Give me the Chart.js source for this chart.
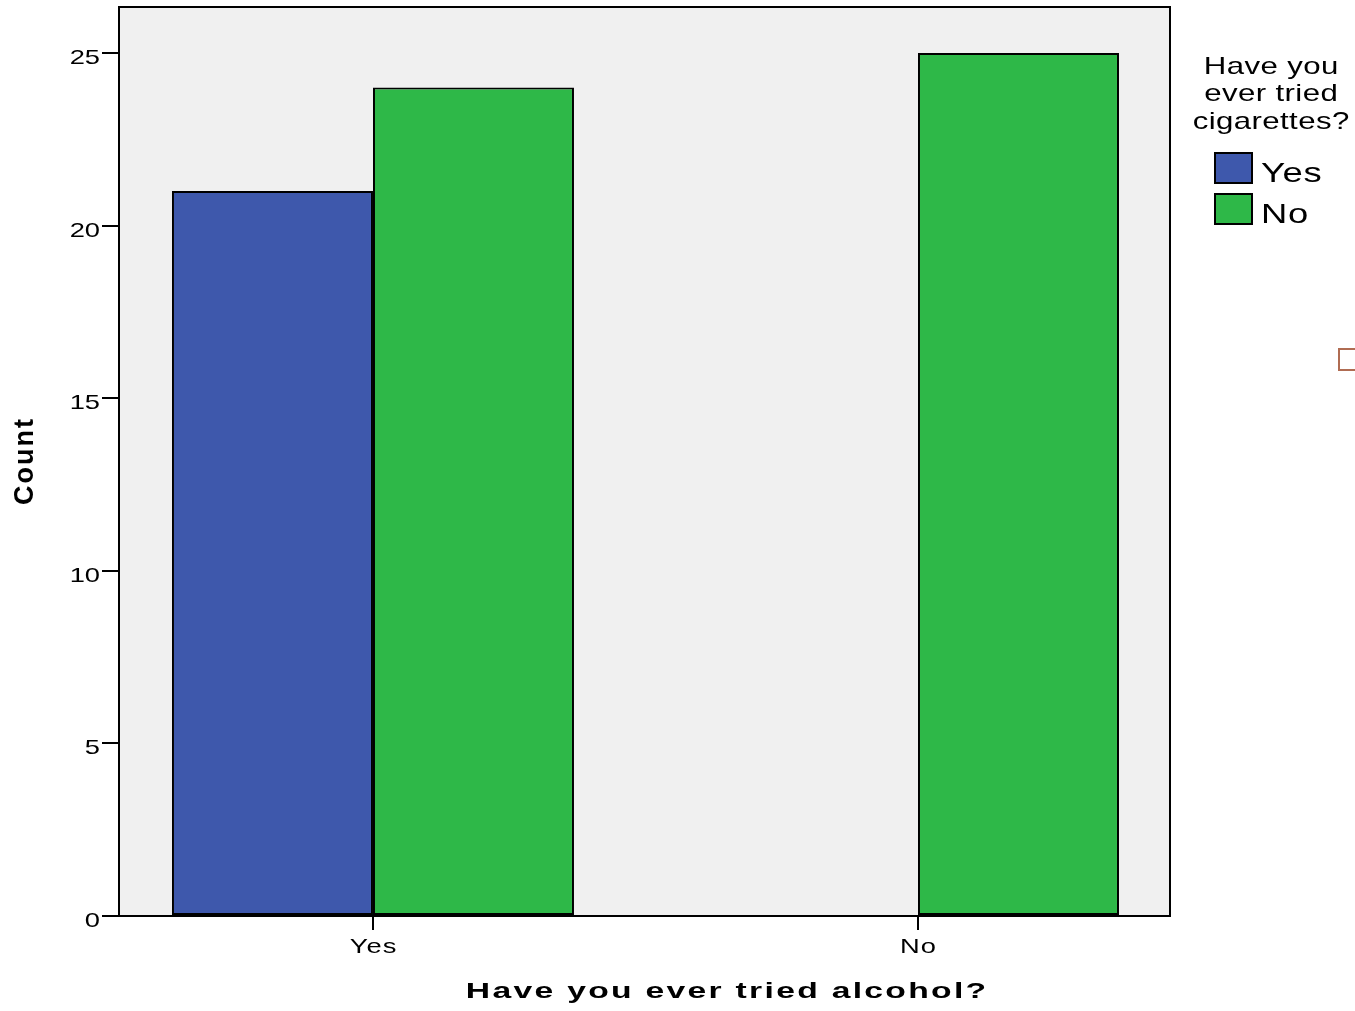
<!DOCTYPE html>
<html>
<head>
<meta charset="utf-8">
<script src="https://cdn.jsdelivr.net/npm/chart.js@4/dist/chart.umd.min.js"></script>
<style>
  html, body { margin: 0; padding: 0; background: #ffffff; }
  #wrap { width: 1355px; height: 1011px; }
</style>
</head>
<body>
<div id="wrap"><canvas id="c" width="1355" height="1011"></canvas></div>
<script>
// ---- data ----
const categories = ['Yes', 'No'];                 // Have you ever tried alcohol?
const seriesNames = ['Yes', 'No'];                // Have you ever tried cigarettes?
const cigYes = [21, 0];
const cigNo = [24, 25];
const yTicks = [0, 5, 10, 15, 20, 25];
const xTitle = 'Have you ever tried alcohol?';
const yTitle = 'Count';
const legendTitle = ['Have you', 'ever tried', 'cigarettes?'];

const COLORS = ['#3E58AC', '#2EB848'];
const FONT = '"Liberation Sans", Arial, Helvetica, sans-serif';

function drawText(ctx, text, x, y, font, align, spacing, sx, rotate) {
  ctx.save();
  ctx.font = font;
  ctx.letterSpacing = (spacing || 0) + 'px';
  const w = ctx.measureText(text).width - (spacing || 0);
  ctx.translate(x, y);
  ctx.scale(sx || 1.3, 1);
  if (rotate) ctx.rotate(-Math.PI / 2);
  const ox = align === 'center' ? -w / 2 : align === 'right' ? -w : 0;
  ctx.textAlign = 'left';
  ctx.textBaseline = 'alphabetic';
  ctx.fillStyle = '#000';
  ctx.fillText(text, ox, 0);
  ctx.restore();
}

const spssPlugin = {
  id: 'spss',
  beforeDraw(chart) {
    const { ctx, chartArea: a } = chart;
    ctx.save();
    ctx.fillStyle = '#F0F0F0';
    ctx.fillRect(a.left, a.top, a.right - a.left, a.bottom - a.top);
    ctx.restore();
  },
  afterDatasetsDraw(chart) {
    const { ctx, chartArea: a } = chart;
    ctx.save();
    ctx.strokeStyle = '#000';
    ctx.lineWidth = 2;
    ctx.beginPath();
    ctx.moveTo(a.left, a.top);
    ctx.lineTo(a.right, a.top);
    ctx.lineTo(a.right, a.bottom);
    ctx.stroke();
    ctx.restore();
  },
  afterDraw(chart) {
    const { ctx, scales } = chart;
    const ys = scales.y, xs = scales.x;
    // y tick labels
    ys.ticks.forEach(t => {
      const py = ys.getPixelForValue(t.value);
      drawText(ctx, String(t.value), 100, py + 11, '21px ' + FONT, 'right', 0, 1.3);
    });
    // x tick labels
    xs.ticks.forEach(t => {
      const px = xs.getPixelForValue(t.value);
      drawText(ctx, categories[t.value], px, 953, '21px ' + FONT, 'center', 0.8, 1.3);
    });
    // axis titles
    drawText(ctx, xTitle, 726, 998, 'bold 22px ' + FONT, 'center', 1.5, 1.53);
    drawText(ctx, yTitle, 33, 462, 'bold 27px ' + FONT, 'center', 2, 1.05, true);
    // legend
    const baseY = [73.5, 101, 128.5];
    legendTitle.forEach((line, i) => {
      drawText(ctx, line, 1271, baseY[i], '24px ' + FONT, 'center', 0.3, 1.3);
    });
    chart.data.datasets.forEach((ds, i) => {
      const by = 153 + i * 41;
      ctx.save();
      ctx.fillStyle = ds.backgroundColor;
      ctx.fillRect(1215, by, 37, 30);
      ctx.strokeStyle = '#000';
      ctx.lineWidth = 2;
      ctx.strokeRect(1215, by, 37, 30);
      ctx.restore();
      drawText(ctx, ds.label, 1261, by + 29, '28px ' + FONT, 'left', 0.5, 1.3);
    });
    // small decoration at the right edge
    ctx.save();
    ctx.strokeStyle = '#B06C52';
    ctx.lineWidth = 2;
    ctx.strokeRect(1339, 349, 30, 21);
    ctx.restore();
  }
};

const datasets = [cigYes, cigNo].map((vals, i) => ({
  label: seriesNames[i],
  data: vals.map((v, j) => ({ x: j, y: v })),
  backgroundColor: COLORS[i],
  borderColor: '#000',
  borderWidth: 2,
  borderSkipped: false,
  categoryPercentage: 0.7376,
  barPercentage: 1.0
}));

new Chart(document.getElementById('c'), {
  type: 'bar',
  data: { datasets },
  options: {
    responsive: false,
    animation: false,
    devicePixelRatio: 1,
    layout: { padding: { top: 7, right: 185, left: 0, bottom: 0 } },
    plugins: { legend: { display: false }, tooltip: { enabled: false } },
    scales: {
      x: {
        type: 'linear',
        min: -0.466,
        max: 1.4624,
        offset: false,
        grid: { display: true, offset: false, drawOnChartArea: false, drawTicks: true, tickLength: 14, color: '#000', lineWidth: 2 },
        border: { display: true, color: '#000', width: 2 },
        ticks: { display: false },
        afterBuildTicks: s => { s.ticks = categories.map((c, i) => ({ value: i })); },
        afterFit: s => { s.height = 95; }
      },
      y: {
        type: 'linear',
        min: 0,
        max: 26.33,
        grid: { display: true, offset: false, drawOnChartArea: false, drawTicks: true, tickLength: 17, color: '#000', lineWidth: 2 },
        border: { display: true, color: '#000', width: 2 },
        ticks: { display: false, stepSize: 5 },
        afterBuildTicks: s => { s.ticks = yTicks.map(v => ({ value: v })); },
        afterFit: s => { s.width = 119; }
      }
    }
  },
  plugins: [spssPlugin]
});
</script>
</body>
</html>
